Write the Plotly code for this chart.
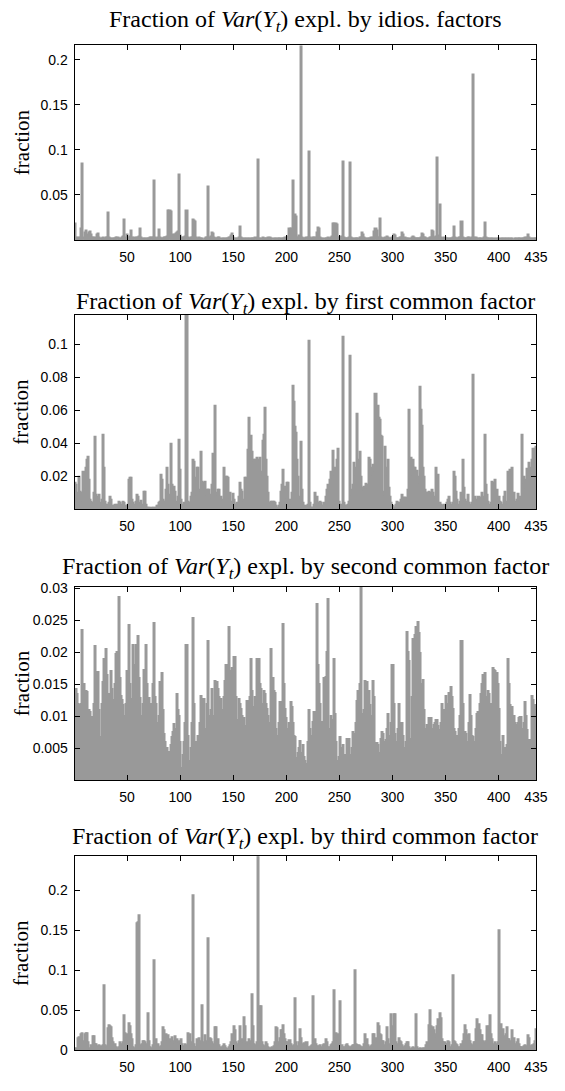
import plotly.graph_objects as go

# ---------------- data ----------------
x_tick_vals = [50, 100, 150, 200, 250, 300, 350, 400, 435]
x_tick_text = ["50", "100", "150", "200", "250", "300", "350", "400", "435"]

titles = [
    "Fraction of <i>Var</i>(<i>Y</i><sub><i>t</i></sub>) expl. by idios. factors",
    "Fraction of <i>Var</i>(<i>Y</i><sub><i>t</i></sub>) expl. by first common factor",
    "Fraction of <i>Var</i>(<i>Y</i><sub><i>t</i></sub>) expl. by second common factor",
    "Fraction of <i>Var</i>(<i>Y</i><sub><i>t</i></sub>) expl. by third common factor",
]

y_tick_vals = [
    [0.05, 0.1, 0.15, 0.2],
    [0.02, 0.04, 0.06, 0.08, 0.1],
    [0.005, 0.01, 0.015, 0.02, 0.025, 0.03],
    [0, 0.05, 0.1, 0.15, 0.2],
]
y_tick_text = [
    ["0.05", "0.1", "0.15", "0.2"],
    ["0.02", "0.04", "0.06", "0.08", "0.1"],
    ["0.005", "0.01", "0.015", "0.02", "0.025", "0.03"],
    ["0", "0.05", "0.1", "0.15", "0.2"],
]
y_max = [0.2157, 0.1177, 0.0302, 0.243]

idios = [
    .018, .002, .001, .002, .001, .003, .012, .085, .002, .008,
    .010, .002, .006, .008, .009, .006, .002, .003, .001, .002,
    .001, .006, .007, .002, .001, .001, .002, .001, .001, .002,
    .003, .030, .002, .001, .001, 0, .001, .001, .001, .002,
    .003, .001, .001, 0, .002, .004, .022, .003, .001, .006,
    .001, .002, .004, .010, .002, .001, .002, .001, .002, .003,
    .004, .012, .002, .001, 0, .001, .001, 0, .001, .001,
    .001, .002, .002, .003, .066, .002, .001, .001, .002, .011,
    .002, .001, .001, .001, .002, .003, .002, .004, .033, .033,
    .031, .003, .006, .005, .006, .007, .008, .009, .073, .005,
    .002, .001, .002, .003, .004, .033, .003, .001, .001, .002,
    .003, .022, .021, .020, .002, .001, .001, .002, .001, .001,
    .001, 0, .001, .002, .003, .059, .002, .001, .004, .008,
    .007, .002, .001, .001, .001, .002, .003, .001, 0, .001,
    .001, 0, .001, .001, .001, .002, .003, .005, .007, .002,
    .001, 0, .001, .001, .002, .015, .003, .001, .001, 0,
    .001, .001, 0, .001, .001, 0, .001, .001, .001, .001,
    .002, .001, .089, .001, .001, 0, .001, .002, .001, .001,
    .001, .001, .002, .001, .002, .001, .001, 0, .001, .001,
    0, .001, .001, .001, 0, .001, .001, .001, .002, .001,
    .002, .004, .012, .013, .003, .066, .004, .028, .026, .003,
    .002, .005, .004, .2157, .002, .001, .001, .001, .002, .003,
    .0985, .002, .001, .001, .002, .003, .001, .002, .008, .014,
    .0125, .002, .001, .001, 0, .001, .001, .001, .002, .001,
    .001, .002, .004, .018, .018, .017, .018, .017, .003, .002,
    .002, .004, .087, .002, .001, .001, .001, .001, .002, .086,
    .002, .001, .001, 0, .001, .001, .001, .001, .002, .003,
    .008, .006, .002, .001, .001, 0, .001, .001, .001, .002,
    .001, .003, .009, .012, .010, .002, .003, .024, .003, .001,
    .001, .001, .002, .001, .004, .003, .001, .001, .001, .002,
    .006, .005, .001, .001, .001, .001, .002, .002, .008, .006,
    .001, .002, .001, .001, .001, 0, .001, .002, .004, .003,
    .001, .001, .001, .001, .001, .001, .002, .007, .006, .003,
    .002, .001, .001, .001, .002, .003, .010, .009, .002, .003,
    .004, .091, .003, .005, .039, .003, .001, .001, .002, .001,
    .001, .001, 0, .001, .001, .001, .002, .015, .003, .001,
    .001, .001, .002, .003, .020, .003, .001, .001, .001, .001,
    .003, .002, .001, .001, .002, .184, .002, .001, .003, .001,
    .001, .001, .001, 0, .001, .002, .019, .002, .001, .001,
    .001, 0, .001, .001, 0, .001, 0, .001, .001, 0,
    .001, 0, .001, .001, 0, .001, .001, 0, .001, .001,
    0, .001, .001, 0, .001, .001, 0, .001, .001, .001,
    0, .001, .001, .001, .002, .001, .003, .006, .002, .001,
    .001, 0, .001, .001, .001,
]

first_common = [
    .016, .015, .010, .006, .020, .011, .010, .004, .023, .012,
    .025, .030, .032, .018, .006, .005, .004, .003, .010, .044,
    .009, .008, .007, .009, .004, .006, .045, .025, .005, .003,
    .002, .003, .004, .0075, .006, .002, .001, .002, .003, .002,
    .003, .005, .004, .002, .003, .005, .004, .002, .001, .002,
    .003, .018, .019, .019, .006, .004, .003, .005, .009, .008,
    .004, .003, .0055, .003, .002, .011, .011, .003, .001, .001,
    .001, 0, .001, .001, 0, .001, .001, .002, .002, .004,
    .005, .021, .018, .006, .005, .005, .012, .025, .015, .009,
    .040, .015, .012, .014, .011, .005, .004, .008, .042, .024,
    .006, .002, .003, .004, .003, .1177, .005, .003, .004, .008,
    .010, .030, .029, .019, .008, .025, .025, .012, .010, .035,
    .017, .016, .017, .008, .012, .012, .012, .009, .006, .015,
    .034, .012, .063, .010, .008, .012, .012, .008, .005, .006,
    .025, .010, .020, .020, .019, .006, .010, .005, .004, .0097,
    .006, .003, .003, .004, .008, .016, .012, .011, .004, .006,
    .019, .019, .018, .036, .0557, .040, .0447, .035, .028, .030,
    .030, .031, .030, .029, .031, .023, .020, .0418, .045, .0617,
    .030, .0197, .010, .004, .003, .005, .005, .005, .004, .002,
    .001, .001, .002, .004, .011, .015, .024, .012, .014, .006,
    .016, .016, .006, .002, .010, .075, .0652, .050, .0467, .030,
    .0197, .008, .006, .041, .012, .004, .002, .001, .002, .003,
    .102, .004, .001, .001, .001, .003, .010, .006, .008, .004,
    .003, .005, .004, .002, .002, .004, .008, .012, .015, .010,
    .018, .023, .018, .0355, .020, .0255, .024, .030, .037, .005,
    .002, .003, .1047, .004, .002, .002, .002, .003, .005, .093,
    .008, .012, .015, .028, .020, .025, .058, .030, .0347, .020,
    .013, .011, .014, .012, .0155, .012, .015, .031, .030, .025,
    .020, .027, .022, .070, .040, .063, .0557, .054, .0447, .044,
    .011, .008, .038, .025, .020, .030, .013, .008, .004, .002,
    .001, .001, .003, .005, .004, .001, .004, .006, .009, .007,
    .007, .007, .007, .006, .012, .060, .031, .020, .030, .025,
    .025, .022, .0236, .020, .015, .074, .060, .0508, .025, .0197,
    .012, .010, .010, .011, .009, .010, .012, .010, .008, .006,
    .025, .018, .0208, .003, .004, .003, .0025, .002, .003, .002,
    .004, .006, .008, .004, .002, .003, .004, .023, .020, .011,
    .006, .003, .002, .005, .010, .030, .013, .006, .004, .005,
    .009, .004, .002, .003, .004, .0815, .005, .0075, .006, .005,
    .008, .006, .007, .010, .008, .006, .045, .015, .009, .005,
    .003, .002, .004, .017, .016, .015, .018, .012, .006, .008,
    .005, .004, .002, .003, .008, .011, .005, .003, .023, .020,
    .024, .022, .0255, .010, .005, .004, .006, .0097, .007, .008,
    .006, .045, .015, .020, .012, .018, .0244, .020, .028, .025,
    .030, .0369, .030, .037, .038,
]

second_common = [
    .0106, .0142, .0135, .0120, .0118, .0095, .0120, .0235, .0150, .0083,
    .0140, .0138, .0090, .0110, .0107, .0095, .0099, .0065, .0120, .0210,
    .0127, .0169, .0169, .0110, .0068, .0120, .0153, .0190, .0140, .0205,
    .0165, .0110, .0135, .0120, .0170, .0142, .0125, .0091, .0150, .0198,
    .0200, .0286, .0160, .0131, .0125, .0118, .0087, .0100, .0120, .0170,
    .0160, .0243, .0150, .0127, .0110, .0211, .0180, .0212, .0150, .0225,
    .0160, .0129, .0100, .0089, .0120, .0173, .0140, .0211, .0150, .0110,
    .0129, .0025, .0120, .0150, .0245, .0130, .0120, .0090, .0068, .0100,
    .0153, .0120, .0168, .0110, .0073, .0060, .0042, .0050, .0037, .0045,
    .0055, .0067, .0075, .0088, .0045, .0080, .0135, .0110, .0101, .0060,
    .0019, .0014, .0040, .0060, .0090, .0211, .0070, .0014, .0030, .0050,
    .0090, .0253, .0120, .0058, .0060, .0057, .0070, .0058, .0090, .0131,
    .0120, .0127, .0045, .0080, .0120, .0217, .0100, .0076, .0110, .0142,
    .0101, .0097, .0155, .0120, .0153, .0142, .0130, .0127, .0110, .0099,
    .0130, .0155, .0180, .0180, .0160, .0240, .0170, .0142, .0176, .0150,
    .0193, .0192, .0130, .0094, .0127, .0120, .0112, .0100, .0089, .0097,
    .0085, .0076, .0124, .0110, .0124, .0130, .0190, .0140, .0112, .0114,
    .0130, .0190, .0160, .0189, .0150, .0142, .0107, .0120, .0140, .0135,
    .0120, .0112, .0101, .0090, .0070, .0205, .0160, .0140, .0137, .0080,
    .0045, .0070, .0090, .0122, .0110, .0122, .0244, .0150, .0112, .0097,
    .0080, .0065, .0090, .0122, .0114, .0090, .0070, .0068, .0025, .0035,
    .0043, .0050, .0062, .0043, .0040, .0055, .0037, .0030, .0025, .0060,
    .0110, .0080, .0055, .0070, .0091, .0107, .0095, .0107, .0275, .0180,
    .0150, .0120, .0091, .0080, .0091, .0160, .0162, .0200, .0283, .0080,
    .0037, .0101, .0080, .0094, .0190, .0104, .0060, .0009, .0030, .0037,
    .0068, .0050, .0055, .0030, .0040, .0027, .0065, .0050, .0065, .0040,
    .0027, .0050, .0076, .0060, .0073, .0090, .0124, .0140, .0150, .0302,
    .0104, .0089, .0110, .0155, .0130, .0153, .0120, .0140, .0117, .0083,
    .0100, .0155, .0130, .0058, .0058, .0055, .0043, .0017, .0065, .0076,
    .0073, .0050, .0060, .0063, .0080, .0104, .0070, .0055, .0090, .0180,
    .0120, .0073, .0060, .0055, .0080, .0119, .0090, .0083, .0089, .0070,
    .0043, .0050, .0060, .0232, .0200, .0186, .0065, .0130, .0220, .0180,
    .0227, .0240, .0200, .0248, .0230, .0199, .0135, .0150, .0157, .0110,
    .0065, .0080, .0086, .0097, .0090, .0097, .0073, .0080, .0086, .0090,
    .0094, .0094, .0085, .0078, .0076, .0090, .0119, .0101, .0110, .0131,
    .0120, .0112, .0137, .0130, .0145, .0130, .0112, .0080, .0075, .0068,
    .0070, .0065, .0080, .0101, .0217, .0120, .0070, .0075, .0073, .0060,
    .0043, .0090, .0133, .0100, .0070, .0068, .0060, .0055, .0080, .0104,
    .0107, .0120, .0135, .0150, .0165, .0160, .0168, .0111, .0130, .0140,
    .0135, .0120, .0094, .0120, .0176, .0173, .0170, .0168, .0150, .0112,
    .0060, .0009, .0040, .0070, .0050, .0043, .0050, .0055, .0189, .0150,
    .0117, .0110, .0114, .0101, .0090, .0086, .0083, .0090, .0097, .0099,
    .0099, .0080, .0060, .0090, .0122, .0100, .0078, .0058, .0063, .0063,
    .0131, .0125, .0115, .0117, .0115,
]

third_common = [
    .002, .003, .002, .015, .017, .010, .020, .022, .012, .021,
    .0215, .022, .010, .002, .003, .006, .004, .018, .018, .008,
    .008, .005, .004, .006, .005, .004, .006, .082, .006, .003,
    .005, .028, .032, .030, .029, .015, .011, .006, .008, .004,
    .003, .004, .011, .008, .005, .010, .044, .022, .015, .020,
    .012, .034, .031, .020, .014, .004, .003, .006, .159, .160,
    .169, .006, .005, .008, .012, .012, .010, .006, .008, .047,
    .012, .004, .003, .006, .113, .008, .014, .006, .008, .004,
    .003, .005, .010, .029, .025, .015, .020, .012, .019, .014,
    .010, .017, .012, .008, .0177, .010, .014, .009, .012, .008,
    .014, .008, .005, .004, .008, .006, .022, .015, .020, .010,
    .006, .194, .008, .004, .004, .014, .010, .015, .012, .008,
    .057, .010, .019, .012, .008, .141, .010, .016, .014, .010,
    .008, .006, .029, .029, .010, .014, .006, .004, .003, .005,
    .008, .005, .003, .002, .002, .004, .006, .010, .020, .012,
    .031, .025, .010, .008, .012, .031, .010, .014, .009, .042,
    .030, .008, .010, .006, .014, .008, .012, .070, .030, .008,
    .006, .010, .243, .040, .055, .055, .010, .006, .004, .005,
    .011, .008, .004, .003, .002, .003, .004, .005, .010, .029,
    .028, .010, .006, .015, .025, .026, .032, .020, .014, .010,
    .011, .006, .013, .008, .005, .004, .006, .065, .010, .005,
    .004, .010, .027, .015, .008, .007, .009, .006, .010, .004,
    .003, .004, .005, .006, .068, .010, .014, .008, .005, .004,
    .005, .006, .004, .003, .006, .008, .014, .010, .004, .003,
    .004, .006, .008, .010, .076, .015, .022, .012, .021, .008,
    .062, .006, .004, .003, .004, .006, .008, .005, .004, .003,
    .004, .005, .006, .007, .101, .008, .006, .007, .005, .004,
    .003, .004, .008, .021, .012, .014, .006, .004, .003, .005,
    .006, .021, .021, .016, .010, .034, .030, .020, .019, .012,
    .012, .004, .006, .010, .029, .014, .006, .008, .046, .030,
    .046, .045, .010, .005, .008, .015, .012, .010, .006, .003,
    .004, .005, .008, .011, .011, .004, .002, .003, .004, .003,
    .002, .046, .004, .002, .002, .003, .002, .002, .003, .002,
    .003, .006, .010, .032, .050, .031, .028, .029, .025, .020,
    .016, .030, .039, .035, .047, .040, .014, .010, .010, .008,
    .008, .012, .010, .004, .003, .006, .094, .012, .010, .008,
    .006, .004, .003, .004, .008, .012, .020, .032, .025, .019,
    .015, .021, .012, .008, .005, .006, .010, .010, .027, .039,
    .033, .025, .019, .019, .012, .010, .008, .012, .031, .025,
    .030, .044, .020, .014, .008, .005, .010, .008, .010, .151,
    .020, .033, .025, .027, .015, .018, .020, .029, .014, .014,
    .010, .012, .025, .015, .008, .005, .010, .014, .008, .004,
    .004, .003, .004, .005, .006, .004, .005, .019, .016, .005,
    .006, .004, .008, .012, .027,
]

series = [idios, first_common, second_common, third_common]

# ---------------- layout helpers ----------------
W, H = 565, 1091
BAR = "#999999"
AX_L, AX_R = 76, 547
panel_px = [(39, 236), (312, 509.5), (588, 784), (861, 1058)]
title_py = [14, 300, 569, 843]


def xp(px):
    return px / W


def yp(py):
    return 1 - py / H


fig = go.Figure()
annotations = []
layout_axes = {}
for i, vals in enumerate(series):
    n = i + 1
    xa = "x" if n == 1 else f"x{n}"
    ya = "y" if n == 1 else f"y{n}"
    xs = list(range(1, len(vals) + 1))
    fig.add_trace(go.Bar(
        x=xs, y=vals, width=1, xaxis=xa, yaxis=ya,
        marker=dict(color=BAR, line=dict(color=BAR, width=2)),
        showlegend=False, hoverinfo="x+y",
    ))
    top, bot = panel_px[i]
    layout_axes["xaxis" if n == 1 else f"xaxis{n}"] = dict(
        domain=[xp(AX_L), xp(AX_R)], anchor=ya, range=[0.5, 435.5],
        tickmode="array", tickvals=x_tick_vals, ticktext=x_tick_text,
        ticks="inside", ticklen=5, tickwidth=1, tickcolor="black",
        showline=True, linecolor="black", linewidth=1, mirror="ticks",
        showgrid=False, zeroline=False,
        tickfont=dict(family="Liberation Sans, Arial, sans-serif", size=14, color="black"),
        ticklabelstandoff=4,
    )
    layout_axes["yaxis" if n == 1 else f"yaxis{n}"] = dict(
        domain=[yp(bot), yp(top)], anchor=xa, range=[0, y_max[i]],
        tickmode="array", tickvals=y_tick_vals[i], ticktext=y_tick_text[i],
        ticks="inside", ticklen=5, tickwidth=1, tickcolor="black",
        showline=True, linecolor="black", linewidth=1, mirror="ticks",
        showgrid=False, zeroline=False,
        tickfont=dict(family="Liberation Sans, Arial, sans-serif", size=14, color="black"),
        ticklabelstandoff=3,
    )
    annotations.append(dict(
        text=titles[i], xref="paper", yref="paper",
        x=xp((AX_L + AX_R) / 2), y=yp(title_py[i]),
        xanchor="center", yanchor="middle", showarrow=False,
        font=dict(family="Liberation Serif, Times New Roman, serif", size=24, color="black"),
    ))
    annotations.append(dict(
        text="fraction", xref="paper", yref="paper",
        x=xp(22), y=yp((top + bot) / 2), textangle=-90,
        xanchor="center", yanchor="middle", showarrow=False,
        font=dict(family="Liberation Serif, Times New Roman, serif", size=21, color="black"),
    ))

fig.update_layout(
    width=W, height=H,
    margin=dict(l=0, r=0, t=0, b=0),
    paper_bgcolor="white", plot_bgcolor="white",
    annotations=annotations,
    bargap=0,
    **layout_axes,
)

fig.write_html(
    "out.html",
    config={"displayModeBar": False},
    post_script="document.body.style.margin='0';document.body.style.overflow='hidden';",
)
